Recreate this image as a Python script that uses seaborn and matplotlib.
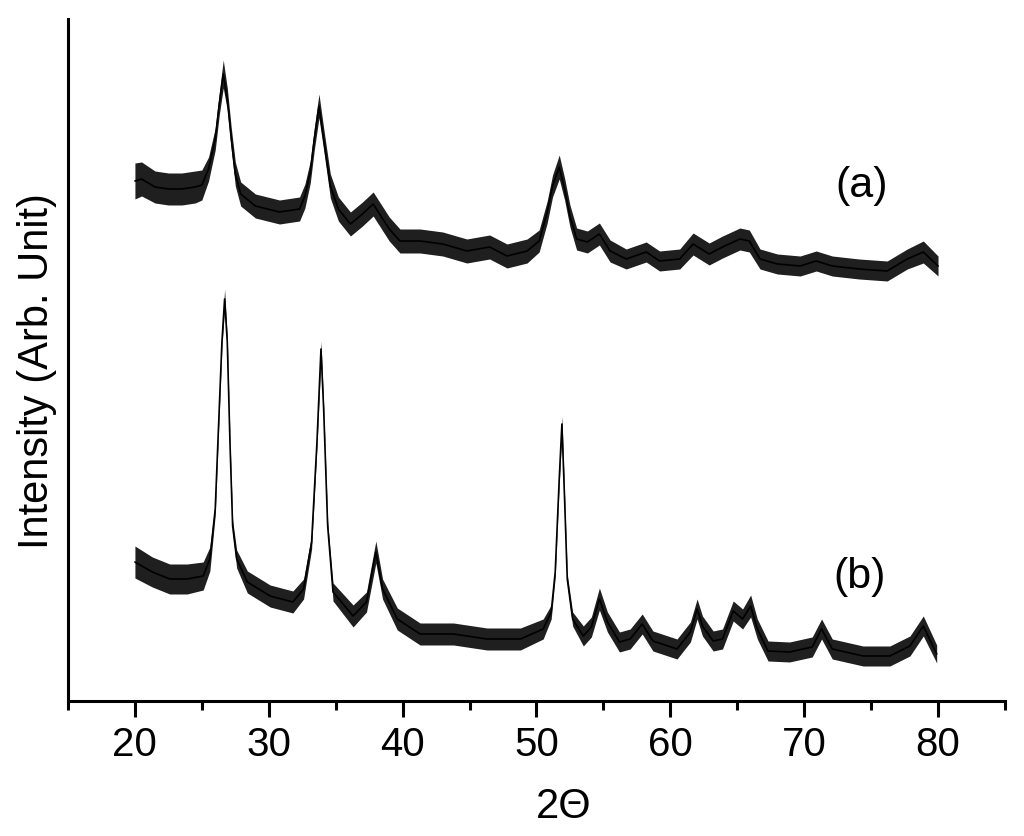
import numpy as np
import matplotlib
matplotlib.use("Agg")
import matplotlib.pyplot as plt
import seaborn as sns
import pandas as pd
from matplotlib.ticker import MultipleLocator

# pattern (a): 2theta, mean intensity, half width of the noise band (arb. units)
two_theta_a = [20.0, 20.5, 21.5, 22.5, 23.5, 24.5, 25.0, 25.5, 26.0, 26.3, 26.6, 26.9,
               27.2, 27.5, 27.9, 29.0, 30.8, 32.3, 32.7, 33.1, 33.4, 33.75, 34.1, 34.6,
               35.2, 36.1, 37.0, 37.8, 39.0, 39.8, 41.3, 43.0, 44.8, 46.5, 47.8, 49.3,
               50.2, 50.8, 51.2, 51.7, 52.1, 52.5, 53.0, 53.8, 54.7, 55.5, 56.7, 58.2,
               59.2, 60.7, 61.7, 62.9, 63.9, 65.2, 65.9, 66.7, 68.0, 69.7, 70.9, 72.1,
               74.1, 76.2, 77.7, 78.9, 80.0]
intensity_a = [520, 522, 514, 512, 512, 514, 516, 532, 562, 597, 627, 602,
               562, 527, 507, 495, 489, 492, 505, 529, 562, 595, 562, 515,
               492, 477, 487, 497, 472, 460, 460, 457, 450, 454, 445, 450,
               460, 489, 515, 534, 512, 485, 462, 459, 467, 450, 442, 449,
               440, 442, 457, 447, 454, 462, 460, 442, 437, 435, 440, 435,
               432, 430, 442, 449, 435]
noise_a = [18, 17, 16, 16, 16, 16, 15, 12, 11, 11, 14, 11,
           11, 12, 12, 12, 12, 12, 12, 11, 11, 12, 11, 12,
           12, 12, 12, 12, 12, 12, 12, 12, 12, 12, 12, 12,
           11, 11, 11, 12, 11, 11, 11, 11, 11, 11, 10, 10,
           10, 10, 11, 11, 11, 11, 11, 10, 10, 10, 10, 10,
           10, 10, 10, 11, 10]

# pattern (b)
two_theta_b = [20.0, 21.3, 22.6, 23.9, 25.1, 25.6, 26.0, 26.2, 26.5, 26.7, 26.9, 27.1,
               27.3, 27.6, 28.4, 30.1, 31.8, 32.6, 33.2, 33.6, 33.9, 34.1, 34.4, 34.8,
               36.3, 37.3, 38.0, 38.5, 39.6, 41.3, 43.8, 46.3, 48.8, 50.5, 51.1, 51.4,
               51.7, 51.9, 52.1, 52.3, 52.7, 53.5, 54.1, 54.7, 55.3, 56.2, 57.0, 57.9,
               58.7, 60.5, 61.5, 62.0, 62.4, 63.2, 63.9, 64.7, 65.4, 66.0, 66.5, 67.3,
               68.9, 70.6, 71.3, 72.1, 74.4, 76.4, 77.9, 78.9, 79.9]
intensity_b = [139, 129, 122, 122, 125, 142, 192, 259, 359, 402, 359, 259,
               175, 142, 119, 105, 99, 112, 159, 259, 352, 292, 175, 109,
               85, 99, 149, 112, 82, 67, 67, 62, 62, 72, 89, 129,
               222, 277, 202, 122, 82, 65, 74, 102, 79, 59, 62, 77,
               60, 52, 69, 92, 75, 60, 62, 90, 82, 95, 72, 50,
               49, 54, 72, 52, 45, 45, 55, 75, 47]
noise_b = [16, 15, 15, 15, 14, 12, 6, 5, 5, 10, 5, 5,
           6, 9, 11, 11, 11, 10, 7, 5, 8, 5, 5, 9,
           11, 10, 11, 10, 11, 11, 11, 11, 11, 10, 7, 5,
           5, 8, 5, 5, 7, 10, 10, 11, 10, 10, 10, 10,
           10, 10, 10, 10, 10, 10, 10, 10, 10, 11, 10, 10,
           10, 10, 10, 10, 10, 10, 10, 10, 9]

labels = ["(a)", "(b)"]

df_a = pd.DataFrame({"two_theta": two_theta_a, "intensity": intensity_a, "noise": noise_a})
df_b = pd.DataFrame({"two_theta": two_theta_b, "intensity": intensity_b, "noise": noise_b})

sns.set_theme(style="ticks")
plt.rcParams["font.family"] = ["Liberation Sans", "DejaVu Sans"]
plt.rcParams["text.color"] = "black"
plt.rcParams["axes.labelcolor"] = "black"

fig = plt.figure(figsize=(10.24, 8.37), dpi=100)
ax = fig.add_axes([0.0664, 0.1613, 0.915, 0.8148])

for df in (df_a, df_b):
    ax.fill_between(df["two_theta"], df["intensity"] - df["noise"], df["intensity"] + df["noise"],
                    color="black", alpha=0.88, linewidth=0)
    sns.lineplot(data=df, x="two_theta", y="intensity", ax=ax, color="black", linewidth=1.2)

ax.text(72.3, 702 - 186, labels[0], fontsize=31, ha="left", va="center", color="black")
ax.text(72.2, 702 - 577, labels[1], fontsize=31, ha="left", va="center", color="black")

ax.set_xlim(15, 85)
ax.set_ylim(0, 682)
ax.xaxis.set_major_locator(MultipleLocator(10))
ax.xaxis.set_minor_locator(MultipleLocator(5))
ax.set_xticks([20, 30, 40, 50, 60, 70, 80])
ax.set_yticks([])
ax.tick_params(axis="x", which="major", direction="out", length=11.5, width=2.2,
               labelsize=29, pad=6, color="black", labelcolor="black")
ax.tick_params(axis="x", which="minor", direction="out", length=6.5, width=2.2, color="black")

for side in ("top", "right"):
    ax.spines[side].set_visible(False)
for side in ("left", "bottom"):
    ax.spines[side].set_linewidth(2.2)
    ax.spines[side].set_color("black")

ax.set_xlabel("2Θ", fontsize=30, color="black")
ax.set_ylabel("Intensity (Arb. Unit)", fontsize=30, color="black")
ax.xaxis.set_label_coords((564 - 68) / 937, -0.125)
ax.yaxis.set_label_coords(-0.012, (702 - 371) / 682)

fig.savefig("out.png", dpi=100)
